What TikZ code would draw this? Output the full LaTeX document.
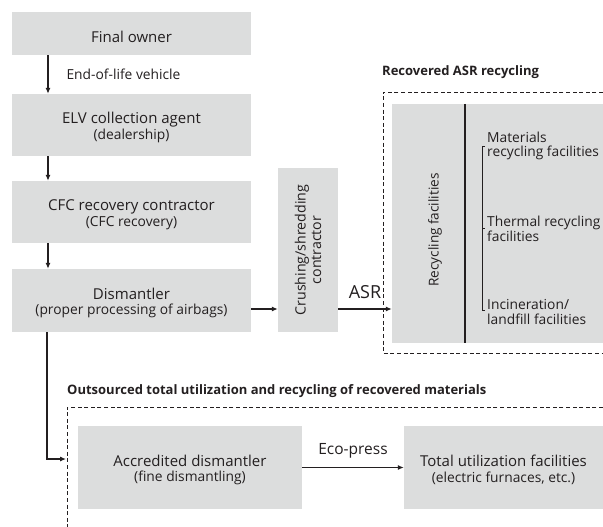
\documentclass[tikz,border=0pt]{standalone}
\usepackage{fontspec}
\setmainfont{Open Sans}
\usetikzlibrary{arrows.meta}
\definecolor{boxgray}{RGB}{220,221,221}
\definecolor{ink}{RGB}{35,31,32}
\newcommand{\subline}[1]{{\fontsize{13.8}{15.5}\selectfont #1}}
\tikzset{
  stage/.style={fill=boxgray,text=ink,align=center,inner sep=0pt,font=\fontsize{15}{15.5}\selectfont},
  single/.style={stage,text height=18pt},
  double/.style={stage,text height=32pt},
  flow/.style={draw=ink,line width=1.1pt,-{Latex[length=6pt,width=5pt]}},
  zone/.style={draw=ink,line width=0.8pt,dash pattern=on 4pt off 2.6pt},
  rule/.style={draw=ink,line width=1.1pt},
  heading/.style={anchor=west,inner sep=0pt,text=ink,font=\bfseries\fontsize{13}{15}\selectfont},
  item/.style={anchor=west,align=left,inner sep=0pt,text=ink,font=\fontsize{13.8}{14.5}\selectfont},
  tag/.style={inner sep=0pt,text=ink,font=\fontsize{14}{16}\selectfont}
}
\begin{document}
\begin{tikzpicture}[x=1pt,y=-1pt]
  \useasboundingbox (0,0) rectangle (603,527);
  % collection chain
  \node[single,minimum width=239pt,minimum height=43pt] (owner) at (131.5,33.5) {Final owner};
  \node[double,minimum width=239pt,minimum height=62pt] (agent) at (131.5,125) {ELV collection agent\\\subline{(dealership)}};
  \node[double,minimum width=239pt,minimum height=62pt] (cfc) at (131.5,212) {CFC recovery contractor\\\subline{(CFC recovery)}};
  \node[double,minimum width=239pt,minimum height=63pt] (dism) at (131.5,300.5) {Dismantler\\\subline{(proper processing of airbags)}};
  \node[stage,minimum width=60pt,minimum height=164pt] (crush) at (308,250) {};
  \node[tag,rotate=90,align=center,font=\fontsize{14.2}{15.5}\selectfont] (crushtxt) at (crush.center) {Crushing/shredding\\contractor};
  \coordinate (spine) at (48,0);
  \coordinate (asrline) at (0,309);
  \draw[flow] (owner.south -| spine) -- node[tag,right=18pt,font=\fontsize{13.8}{15}\selectfont] (elv) {End-of-life vehicle} (agent.north -| spine);
  \draw[flow] (agent.south -| spine) -- (cfc.north -| spine);
  \draw[flow] (cfc.south -| spine) -- (dism.north -| spine);
  % ASR recycling
  \node[heading] (asrhead) at (382,72) {Recovered ASR recycling};
  \draw[zone] (603,92) -- (383,92) -- (383,353) -- (603,353);
  \node[stage,minimum width=211pt,minimum height=239pt] (recyc) at (497.5,223.5) {};
  \node[tag,rotate=90,font=\fontsize{13.6}{15}\selectfont] (recyctxt) at (435,230) {Recycling facilities};
  \draw[rule] (465,104) -- (465,343);
  \draw[rule,line width=0.9pt] (485,146) -- (482,146) -- (482,310) -- (485,310);
  \draw[rule,line width=0.9pt] (482,228) -- (485,228);
  \node[item] (matfac) at (487,146) {Materials\\recycling facilities};
  \node[item] (thermfac) at (487,229) {Thermal recycling\\facilities};
  \node[item] (incfac) at (487,312) {Incineration/\\landfill facilities};
  \draw[flow] (dism.east |- asrline) -- (crush.west |- asrline);
  \draw[flow] (crush.east |- asrline) -- node[tag,above=10pt,font=\fontsize{18}{20}\selectfont] (asr) {ASR} (recyc.west |- asrline);
  % outsourced recycling
  \node[heading] (outhead) at (67,391) {Outsourced total utilization and recycling of recovered materials};
  \draw[zone] (603,407) -- (67,407) -- (67,527);
  \node[double,minimum width=224pt,minimum height=83pt] (accr) at (190,467.5) {Accredited dismantler\\\subline{(fine dismantling)}};
  \node[double,minimum width=199pt,minimum height=83pt] (total) at (503.5,467.5) {Total utilization facilities\\\subline{(electric furnaces, etc.)}};
  \coordinate (drop) at (47,459);
  \coordinate (outin) at (66,459);
  \draw[flow] (dism.south -| drop) -- (drop) -- (outin);
  \draw[flow] (accr.east) -- node[tag,above=9pt,font=\fontsize{15.5}{17}\selectfont] (eco) {Eco-press} (total.west);
\end{tikzpicture}
\end{document}
